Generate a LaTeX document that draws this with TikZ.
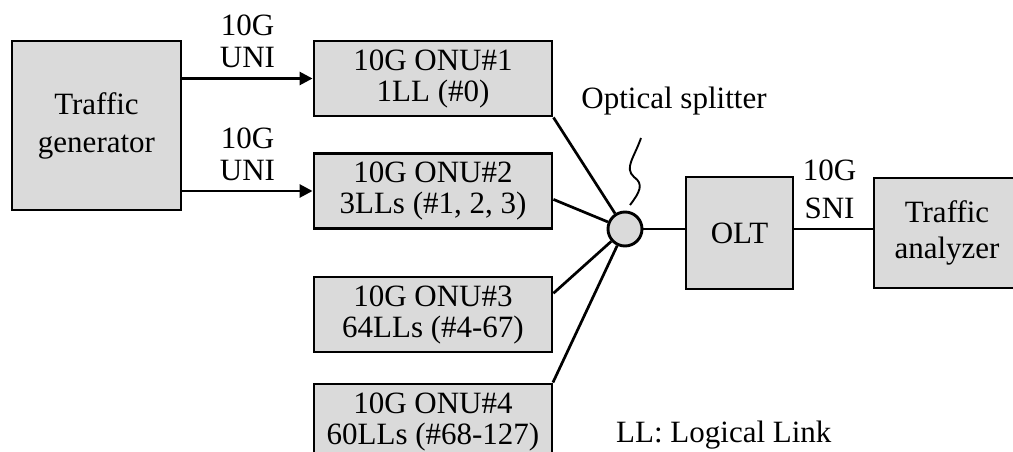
\documentclass[tikz,border=0pt]{standalone}
\usepackage{fontspec}
\setmainfont{Liberation Serif}
\usetikzlibrary{arrows.meta}
\definecolor{boxgray}{RGB}{218,218,218}
\begin{document}
\begin{tikzpicture}[x=1pt,y=-1pt,
  box/.style={draw=black, line width=2.9pt, fill=boxgray, inner sep=0pt,
    align=center, font=\fontsize{31}{31}\selectfont},
  onubox/.style={box, minimum width=238pt, minimum height=75pt},
  link/.style={line width=2.7pt},
  feed/.style={link, -{Triangle[length=13pt,width=13pt]}},
  lbl/.style={inner sep=0pt, align=center, font=\fontsize{31}{32}\selectfont}
]
\useasboundingbox (0,0) rectangle (1013,452);

% equipment
\node[box, minimum width=169pt, minimum height=169pt,
  font=\fontsize{31}{38}\selectfont] (gen) at (96.5,125.5) {Traffic\\generator};
\node[onubox] (onu1) at (433,78.5)  {10G ONU\#1\\1LL (\#0)};
\node[onubox] (onu2) at (433,191)   {10G ONU\#2\\3LLs (\#1, 2, 3)};
\node[onubox] (onu3) at (433,314.5) {10G ONU\#3\\64LLs (\#4-67)};
\node[onubox] (onu4) at (433,421.5) {10G ONU\#4\\60LLs (\#68-127)};
\node[circle, draw=black, line width=2.9pt, fill=boxgray, minimum size=34pt,
  inner sep=0pt] (spl) at (625,229) {};
\node[box, minimum width=107pt, minimum height=112pt] (olt) at (739.5,233) {OLT};
\node[box, minimum width=146pt, minimum height=110pt,
  font=\fontsize{31}{36}\selectfont] (ana) at (947,233) {Traffic\\analyzer};

% user-side links
\draw[feed] (gen.east |- onu1.west) -- node[lbl, above=9pt] {10G\\UNI} (onu1.west);
\draw[feed] (gen.east |- onu2.west) -- node[lbl, above=9pt] {10G\\UNI} (onu2.west);

% fibres into the splitter
\draw[link] (onu1.south east) -- (spl);
\draw[link] (onu2.-4.3) -- (spl);
\draw[link] (onu3.10.7) -- (spl);
\draw[link] (onu4.18.2) -- (spl);

% network side
\draw[link] (spl.east) -- (spl -| olt.west);
\draw[link] (spl -| olt.east) -- node[lbl, above=9pt, xshift=-4pt,
  font=\fontsize{31}{38}\selectfont] {10G\\SNI} (spl -| ana.west);

% splitter callout
\node[lbl, anchor=base] (spltxt) at (674,108) {Optical splitter};
\draw[line width=1.9pt] (641,138) .. controls (634,158) and (624,168) .. (634,177)
  .. controls (644,184) and (640,192) .. (630,205);

% legend
\node[lbl, anchor=base west] (legend) at (616,442) {LL: Logical Link};
\end{tikzpicture}
\end{document}
